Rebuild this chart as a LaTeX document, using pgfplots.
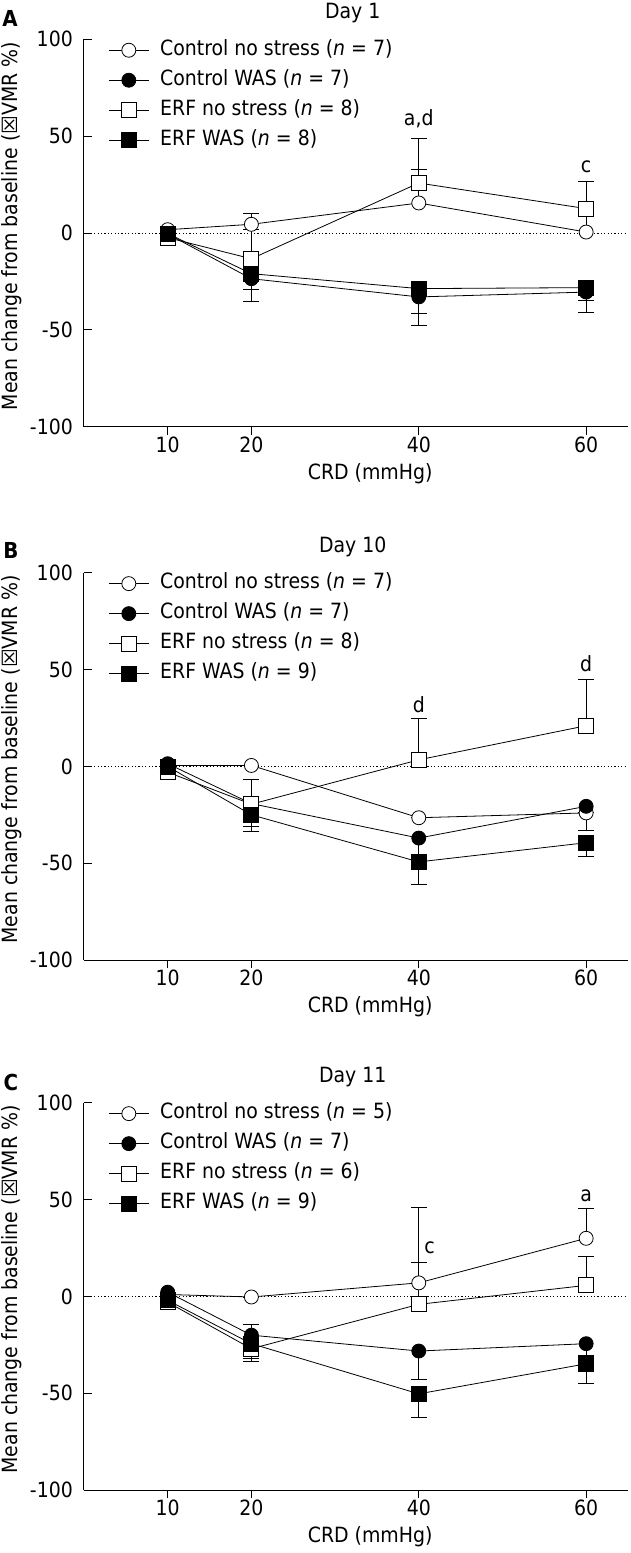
\documentclass[border=0pt]{standalone}
\usepackage{fontspec}
\setmainfont{DejaVu Sans Condensed}
\newfontfamily\dejavu{DejaVu Sans}
\usepackage{pgfplots}
\pgfplotsset{compat=1.18}
\pgfplotsset{
  panel/.style={
    scale only axis, width=544pt, height=387.4pt,
    xmin=0, xmax=65, ymin=-100, ymax=100,
    axis x line*=bottom, axis y line*=left,
    axis line style={line width=1pt, -},
    xtick={10,20,40,60}, xticklabels={10,20,40,60},
    ytick={-100,-50,0,50,100}, yticklabels={-100,-50,0,50,100},
    tick align=inside, major tick length=8pt,
    tick style={line width=1pt, black},
    xtick style={yshift=-8pt},
    xticklabel style={anchor=center, yshift=-18pt},
    yticklabel style={anchor=east, inner sep=0pt, xshift=-11pt},
    title style={at={(axis description cs:0.494,1)}, anchor=center, yshift=20pt},
    xlabel={CRD (mmHg)},
    xlabel style={at={(axis description cs:0.526,0)}, anchor=center, yshift=-47pt},
    ylabel={Mean change from baseline ({\dejavu ☒}VMR \%)},
    ylabel style={at={(axis description cs:-0.132,0.518)}, anchor=center, rotate=0},
    legend style={draw=none, fill=none, at={(axis description cs:0.039,1.002)}, anchor=north west,
      nodes={inner sep=0pt, text height=14.5pt, text depth=4.5pt}, row sep=11pt},
    legend cell align=left,
    legend image code/.code={
      \draw[##1, mark repeat=2, mark phase=2] plot coordinates {(0pt,0pt) (20pt,0pt) (40pt,0pt)};
      \path (51pt,0pt);
    },
    every axis plot/.append style={black, line width=0.8pt},
  },
  cns/.style={mark=*, mark size=7pt, mark options={fill=white, draw=black, line width=0.8pt},
    error bars/.cd, y dir=plus, y explicit,
    error bar style={line width=0.8pt, black},
    error mark options={rotate=90, mark size=8pt, line width=0.8pt, black}},
  cw/.style={mark=*, mark size=7pt, mark options={fill=black, draw=black, line width=0.8pt},
    error bars/.cd, y dir=minus, y explicit,
    error bar style={line width=0.8pt, black},
    error mark options={rotate=90, mark size=8pt, line width=0.8pt, black}},
  ens/.style={mark=square*, mark size=7.5pt, mark options={fill=white, draw=black, line width=0.8pt},
    error bars/.cd, y dir=plus, y explicit,
    error bar style={line width=0.8pt, black},
    error mark options={rotate=90, mark size=8pt, line width=0.8pt, black}},
  ew/.style={mark=square*, mark size=7.5pt, mark options={fill=black, draw=black, line width=0.8pt},
    error bars/.cd, y dir=minus, y explicit,
    error bar style={line width=0.8pt, black},
    error mark options={rotate=90, mark size=8pt, line width=0.8pt, black}},
  zero/.style={black, line width=0.6pt, dash pattern=on 1.2pt off 2.2pt, forget plot},
}
\begin{document}
\fontsize{21pt}{25pt}\selectfont
\begin{tikzpicture}
\useasboundingbox (0,0) rectangle (630pt,-1553pt);
\node[font=\bfseries\fontsize{22pt}{26pt}\selectfont] at (10pt,-18pt) {A};
\node[font=\bfseries\fontsize{22pt}{26pt}\selectfont] at (11pt,-550pt) {B};
\node[font=\bfseries\fontsize{22pt}{26pt}\selectfont] at (11pt,-1082pt) {C};

% ---------- Panel A: Day 1
\begin{axis}[panel, at={(84pt,-426.7pt)}, anchor=south west, title={Day 1}]
\addplot[zero] coordinates {(0,0) (65,0)};
\addplot[cns] coordinates {(10,1.7) +- (0,0) (20,4.5) +- (0,5.5) (40,15.5) +- (0,17.5) (60,0.5) +- (0,9.5)};
\addlegendentry{Control no stress (\textit{n} = 7)}
\addplot[cw] coordinates {(10,-0.5) +- (0,0) (20,-23.6) +- (0,11.7) (40,-33) +- (0,14.7) (60,-30.5) +- (0,10.3)};
\addlegendentry{Control WAS (\textit{n} = 7)}
\addplot[ens] coordinates {(10,-2.4) +- (0,0) (20,-13.3) +- (0,15) (40,25.8) +- (0,23.2) (60,12.6) +- (0,14.1)};
\addlegendentry{ERF no stress (\textit{n} = 8)}
\addplot[ew] coordinates {(10,-0.3) +- (0,0) (20,-21) +- (0,8.3) (40,-28.7) +- (0,12.9) (60,-28.2) +- (0,6.6)};
\addlegendentry{ERF WAS (\textit{n} = 8)}
\node at (axis cs:40,59) {a,d};
\node at (axis cs:60,34) {c};
\end{axis}

% ---------- Panel B: Day 10
\begin{axis}[panel, at={(84pt,-960.1pt)}, anchor=south west, title={Day 10}]
\addplot[zero] coordinates {(0,0) (65,0)};
\addplot[cns] coordinates {(10,0.5) +- (0,0) (20,0.5) +- (0,0) (40,-26.5) +- (0,0) (60,-24) +- (0,0)};
\addlegendentry{Control no stress (\textit{n} = 7)}
\addplot[cw] coordinates {(10,1.4) +- (0,0) (20,-19.2) +- (0,12) (40,-37) +- (0,11) (60,-20.6) +- (0,12.4)};
\addlegendentry{Control WAS (\textit{n} = 7)}
\addplot[ens] coordinates {(10,-3) +- (0,0) (20,-19.5) +- (0,12.6) (40,3.4) +- (0,21.2) (60,21) +- (0,23.7)};
\addlegendentry{ERF no stress (\textit{n} = 8)}
\addplot[ew] coordinates {(10,0) +- (0,0) (20,-25) +- (0,8.3) (40,-49.3) +- (0,11.7) (60,-39.4) +- (0,7)};
\addlegendentry{ERF WAS (\textit{n} = 9)}
\node at (axis cs:40,31.8) {d};
\node at (axis cs:60,53) {d};
\end{axis}

% ---------- Panel C: Day 11
\begin{axis}[panel, at={(84pt,-1490.1pt)}, anchor=south west, title={Day 11}]
\addplot[zero] coordinates {(0,0) (65,0)};
\addplot[cns] coordinates {(10,1) +- (0,0) (20,-0.3) +- (0,0) (40,7) +- (0,38.8) (60,30) +- (0,15.6)};
\addlegendentry{Control no stress (\textit{n} = 5)}
\addplot[cw] coordinates {(10,2.2) +- (0,0) (20,-20) +- (0,12) (40,-28.2) +- (0,14.8) (60,-24.4) +- (0,6)};
\addlegendentry{Control WAS (\textit{n} = 7)}
\addplot[ens] coordinates {(10,-3) +- (0,0) (20,-27) +- (0,12.5) (40,-4.1) +- (0,21.5) (60,5.7) +- (0,14.9)};
\addlegendentry{ERF no stress (\textit{n} = 6)}
\addplot[ew] coordinates {(10,-2) +- (0,0) (20,-24.4) +- (0,9) (40,-50.3) +- (0,12) (60,-34.8) +- (0,10.2)};
\addlegendentry{ERF WAS (\textit{n} = 9)}
\node at (axis cs:41.3,25) {c};
\node at (axis cs:60,52) {a};
\end{axis}
\end{tikzpicture}
\end{document}
